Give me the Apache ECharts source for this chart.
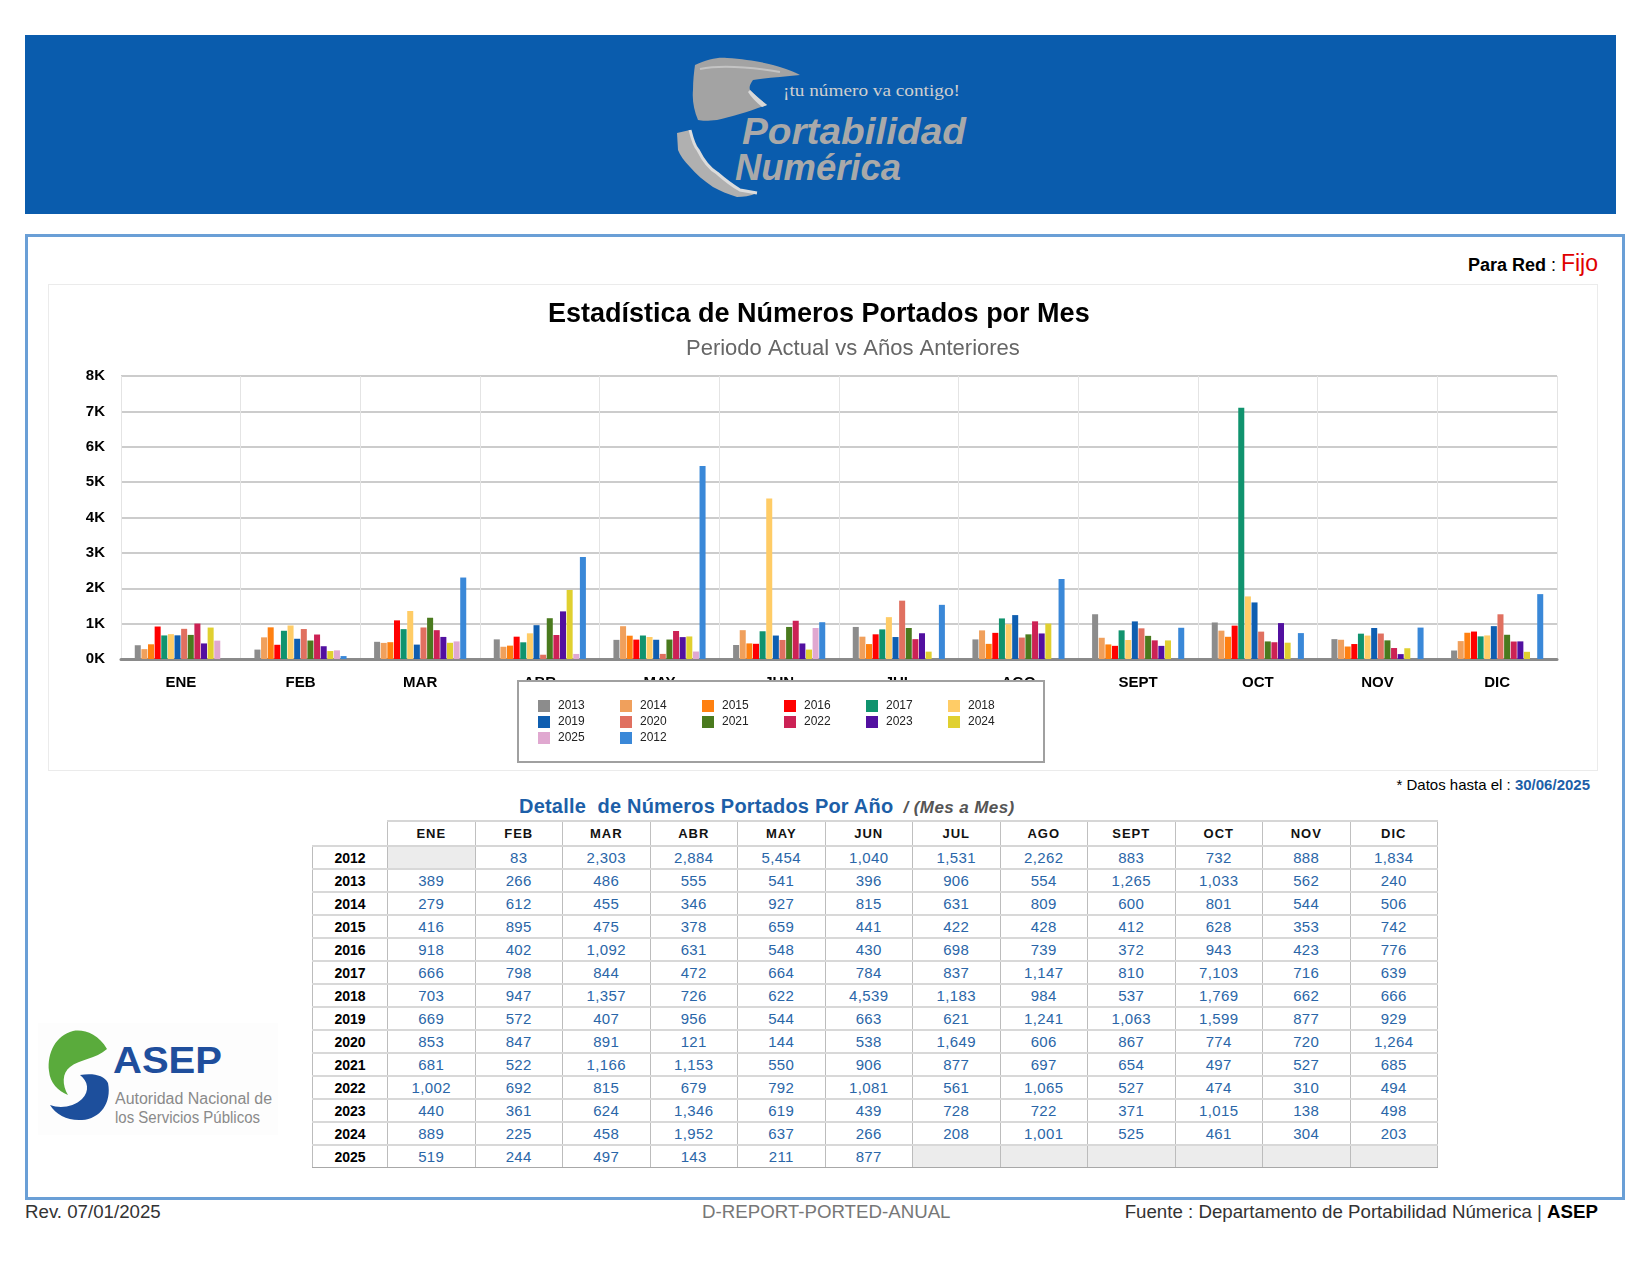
<!DOCTYPE html>
<html>
<head>
<meta charset="utf-8">
<script src="https://cdn.jsdelivr.net/npm/echarts@6/dist/echarts.min.js"></script>
<style>
  html,body{margin:0;padding:0;}
  body{width:1650px;height:1275px;background:#fff;font-family:"Liberation Sans",Arial,sans-serif;position:relative;overflow:hidden;}
  .abs{position:absolute;}
  #header{left:25px;top:35px;width:1591px;height:179px;background:#0a5cad;}
  #frame{left:25px;top:234px;width:1594px;height:960px;border:3px solid #6a9fd6;}
  #card{left:48px;top:284px;width:1550px;height:487px;border:1px solid #ebebeb;box-sizing:border-box;}
  #chart{left:49px;top:285px;width:1548px;height:485px;}
  #parared{right:52px;top:250px;white-space:nowrap;}
  #datos{right:60px;top:776px;font-size:15px;color:#000;white-space:nowrap;}
  #ttitle{left:519px;top:795px;white-space:nowrap;}
  #tbl{left:312px;top:820px;border-collapse:collapse;table-layout:fixed;}
  #tbl td,#tbl th{padding:0;text-align:center;vertical-align:middle;}
  #tbl th{font-size:13px;font-weight:bold;letter-spacing:1px;color:#111;height:23px;border:1px solid #c0c0c0;border-top:2px solid #d6d6d6;border-bottom:2px solid #d6d6d6;}
  #tbl th.blank{border:none;}
  #tbl td{height:21px;font-size:15px;color:#2a66a8;letter-spacing:0.4px;border-left:1px solid #bcbcbc;border-right:1px solid #bcbcbc;border-top:2px solid #d8d8d8;border-bottom:2px solid #d8d8d8;}
  #tbl td.yr{font-size:14px;font-weight:bold;color:#000;letter-spacing:0;}
  #tbl td.empty{background:#ececec;}
  #tbl tr.last td{border-top:1px solid #a8a8a8;border-bottom:1px solid #a8a8a8;}
  .foot{top:1201px;font-size:18.7px;white-space:nowrap;}
</style>
</head>
<body>
<div id="header" class="abs"></div>
<svg class="abs" style="left:670px;top:45px" width="320" height="165" viewBox="0 0 320 165">
  <path d="M25,20 C38,14 48,12 57,13 C75,14 92,17 103,20 C115,23 124,27 130,30 C112,32 95,33 83,35 C80,39 79,42 80,45 C86,51 92,56 97,60 C80,66 62,72 47,75 C38,76 32,76 28,75 C24,65 22,55 23,45 C23,35 24,27 25,20 Z" fill="#a3a3a3"/>
  <path d="M30,24 C50,20 80,22 110,27" stroke="#c4c4c4" stroke-width="2" fill="none"/>
  <path d="M80,45 C86,51 92,56 97,60 L92,62 C86,57 81,52 78,47 Z" fill="#d8d8d8"/>
  <path d="M7,88 L20,85 C23,97 26,103 28,105 C34,117 40,124 47,128 C55,135 63,141 70,145 L87,148 C80,151 73,152 67,152 C58,149 50,146 43,142 C34,136 26,129 20,122 C14,116 10,110 8,105 Z" fill="#b0b0b0"/>
  <path d="M20,85 C23,97 26,103 28,105 C34,117 40,124 47,128 C55,135 63,141 70,145 L87,148" stroke="#dcdcdc" stroke-width="3" fill="none"/>
  <text x="113" y="51" font-family="Liberation Serif, DejaVu Serif, serif" font-size="16" fill="#cfcfcf" textLength="177" lengthAdjust="spacingAndGlyphs">¡tu número va contigo!</text>
  <text x="72" y="99" font-family="Liberation Sans, Arial, sans-serif" font-style="italic" font-weight="bold" font-size="37" fill="#a9a9a9" textLength="224" lengthAdjust="spacingAndGlyphs">Portabilidad</text>
  <text x="65" y="135" font-family="Liberation Sans, Arial, sans-serif" font-style="italic" font-weight="bold" font-size="37" fill="#a9a9a9" textLength="166" lengthAdjust="spacingAndGlyphs">Numérica</text>
</svg>
<div id="frame" class="abs"></div>
<div id="parared" class="abs"><span style="font-size:18px;font-weight:bold;color:#000">Para Red</span><span style="font-size:18px;color:#000"> : </span><span style="font-size:23px;color:#e00000">Fijo</span></div>
<div id="card" class="abs"></div>
<div id="chart" class="abs"></div>
<div id="datos" class="abs">* Datos hasta el : <b style="color:#1d5fa8">30/06/2025</b></div>
<div id="ttitle" class="abs"><span style="font-size:20px;font-weight:bold;color:#1d5fa8;letter-spacing:0.2px">Detalle&nbsp; de Números Portados Por Año</span><span style="font-size:17px;font-style:italic;font-weight:bold;color:#555;letter-spacing:0.4px"> &nbsp;/ (Mes a Mes)</span></div>
<table id="tbl" class="abs"></table>
<svg class="abs" style="left:38px;top:1023px" width="240" height="112" viewBox="0 0 240 112">
  <rect x="0" y="0" width="240" height="112" fill="#fdfdfd"/>
  <path d="M69,26 C60,10 45,6 35,8 C18,12 9,30 11,48 C12,60 20,68 30,72 C24,62 24,50 32,44 C42,36 58,36 69,26 Z" fill="#5aab3c"/>
  <path d="M70,60 C74,80 62,96 44,97 C30,98 18,92 12,82 C22,86 36,84 44,76 C52,68 50,58 42,52 C55,50 66,52 70,60 Z" fill="#1d4f9c"/>
  <text x="75" y="50" font-family="Liberation Sans, Arial, sans-serif" font-weight="bold" font-size="36" fill="#1f4e9c" textLength="109" lengthAdjust="spacingAndGlyphs">ASEP</text>
  <text x="77" y="81" font-family="Liberation Sans, Arial, sans-serif" font-size="16" fill="#8a8a8a" textLength="157" lengthAdjust="spacingAndGlyphs">Autoridad Nacional de</text>
  <text x="77" y="100" font-family="Liberation Sans, Arial, sans-serif" font-size="16" fill="#8a8a8a" textLength="145" lengthAdjust="spacingAndGlyphs">los Servicios Públicos</text>
</svg>
<div class="abs foot" style="left:25px;color:#333">Rev. 07/01/2025</div>
<div class="abs foot" style="left:702px;width:247px;text-align:center;color:#777">D-REPORT-PORTED-ANUAL</div>
<div class="abs foot" style="right:52px;color:#333">Fuente : Departamento de Portabilidad Númerica | <b style="color:#000">ASEP</b></div>

<script>
// ---- data ----
const months = ['ENE','FEB','MAR','ABR','MAY','JUN','JUL','AGO','SEPT','OCT','NOV','DIC'];
const y2012 = [null, 83, 2303, 2884, 5454, 1040, 1531, 2262, 883, 732, 888, 1834];
const y2013 = [389, 266, 486, 555, 541, 396, 906, 554, 1265, 1033, 562, 240];
const y2014 = [279, 612, 455, 346, 927, 815, 631, 809, 600, 801, 544, 506];
const y2015 = [416, 895, 475, 378, 659, 441, 422, 428, 412, 628, 353, 742];
const y2016 = [918, 402, 1092, 631, 548, 430, 698, 739, 372, 943, 423, 776];
const y2017 = [666, 798, 844, 472, 664, 784, 837, 1147, 810, 7103, 716, 639];
const y2018 = [703, 947, 1357, 726, 622, 4539, 1183, 984, 537, 1769, 662, 666];
const y2019 = [669, 572, 407, 956, 544, 663, 621, 1241, 1063, 1599, 877, 929];
const y2020 = [853, 847, 891, 121, 144, 538, 1649, 606, 867, 774, 720, 1264];
const y2021 = [681, 522, 1166, 1153, 550, 906, 877, 697, 654, 497, 527, 685];
const y2022 = [1002, 692, 815, 679, 792, 1081, 561, 1065, 527, 474, 310, 494];
const y2023 = [440, 361, 624, 1346, 619, 439, 728, 722, 371, 1015, 138, 498];
const y2024 = [889, 225, 458, 1952, 637, 266, 208, 1001, 525, 461, 304, 203];
const y2025 = [519, 244, 497, 143, 211, 877, null, null, null, null, null, null];

// chart series order (as in legend)
const seriesNames = ['2013','2014','2015','2016','2017','2018','2019','2020','2021','2022','2023','2024','2025','2012'];
const seriesValues = [y2013,y2014,y2015,y2016,y2017,y2018,y2019,y2020,y2021,y2022,y2023,y2024,y2025,y2012];
const seriesColors = ['#8c8c8c','#f0a05c','#ff8010','#ff0000','#10936e','#ffcc66','#0f5eb0','#e07060','#4a7a1e','#cc2255','#5210a0','#e0d030','#e0a8d0','#3a88d8'];

// table order
const tableYears = ['2012','2013','2014','2015','2016','2017','2018','2019','2020','2021','2022','2023','2024','2025'];
const tableValues = [y2012,y2013,y2014,y2015,y2016,y2017,y2018,y2019,y2020,y2021,y2022,y2023,y2024,y2025];

// ---- table ----
(function(){
  const t = document.getElementById('tbl');
  let html = '<colgroup><col style="width:75px">' + months.map(()=>'<col style="width:87.5px">').join('') + '</colgroup>';
  html += '<tr><th class="blank"></th>' + months.map(m=>'<th>'+m+'</th>').join('') + '</tr>';
  tableYears.forEach((y,i)=>{
    const cls = (i === tableYears.length-1) ? ' class="last"' : '';
    html += '<tr'+cls+'><td class="yr">'+y+'</td>' + tableValues[i].map(v => v==null ? '<td class="empty"></td>' : '<td>'+v.toLocaleString('en-US')+'</td>').join('') + '</tr>';
  });
  t.innerHTML = html;
})();

// ---- chart ----
const chart = echarts.init(document.getElementById('chart'), null, {renderer:'canvas'});
const FONT = 'Liberation Sans, Arial, sans-serif';
chart.setOption({
  animation:false,
  textStyle:{fontFamily:FONT},
  title:[
    {text:'Estadística de Números Portados por Mes', left:494, top:11,
     textStyle:{fontSize:27,fontWeight:'bold',color:'#000',fontFamily:FONT}},
    {text:'Periodo Actual vs Años Anteriores', left:632, top:48,
     textStyle:{fontSize:22,fontWeight:'normal',color:'#666',fontFamily:FONT}}
  ],
  grid:{left:72,right:40,top:91,bottom:111,containLabel:false,outerBoundsMode:'none'},
  legend:{
    left:469, top:396, width:510,
    orient:'horizontal',
    icon:'rect', itemWidth:12, itemHeight:12, itemGap:4, itemStyle:{borderWidth:0},
    padding:[19,18,18,20],
    backgroundColor:'#ffffff', borderColor:'#a0a0a0', borderWidth:2,
    textStyle:{fontSize:12,color:'#222',width:58,lineHeight:12,padding:[0,0,0,3],fontFamily:FONT},
    selectedMode:false,
    z:10,
    data:seriesNames
  },
  xAxis:{
    type:'category', data:months,
    axisLine:{show:true,lineStyle:{color:'#8a8a8a',width:3}},
    axisTick:{show:false},
    axisLabel:{fontSize:15,fontWeight:'bold',color:'#000',margin:16,interval:0},
    splitLine:{show:true,lineStyle:{color:'#e4e4e4',width:1}}
  },
  yAxis:{
    type:'value', min:0, max:8000, interval:1000,
    axisLine:{show:false}, axisTick:{show:false},
    axisLabel:{fontSize:15,fontWeight:'bold',color:'#000',margin:16,formatter:v=>(v/1000)+'K'},
    splitLine:{show:true,lineStyle:{color:'#cccccc',width:2}}
  },
  series: seriesNames.map((n,i)=>({
    name:n, type:'bar', data:seriesValues[i],
    itemStyle:{color:seriesColors[i]},
    barGap:'10%', barCategoryGap:'23%'
  }))
});
</script>
</body>
</html>
